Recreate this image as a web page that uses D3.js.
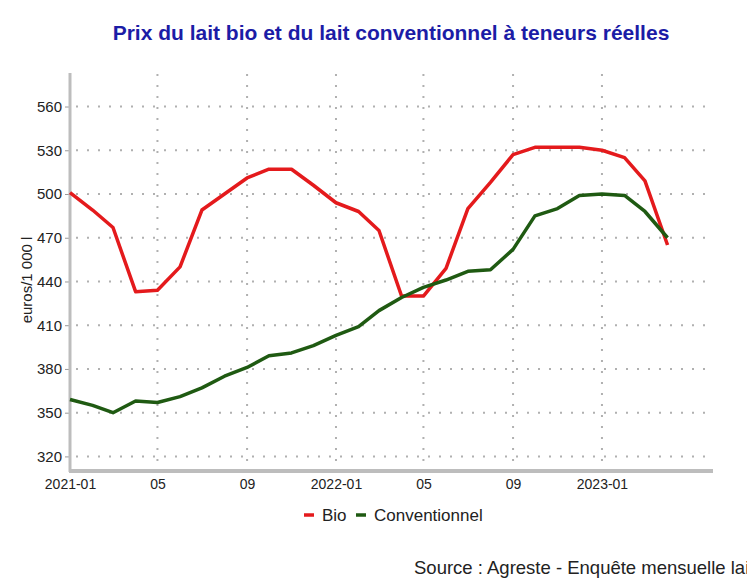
<!DOCTYPE html>
<html><head><meta charset="utf-8">
<script src="https://cdn.jsdelivr.net/npm/d3@7"></script>
<style>
body{margin:0;background:#fff;}
text{font-family:"Liberation Sans",Arial,sans-serif;}
</style></head>
<body><svg id="c" width="747" height="584"></svg>
<script>
const months = ["2021-01","2021-02","2021-03","2021-04","2021-05","2021-06","2021-07","2021-08","2021-09","2021-10","2021-11","2021-12",
"2022-01","2022-02","2022-03","2022-04","2022-05","2022-06","2022-07","2022-08","2022-09","2022-10","2022-11","2022-12",
"2023-01","2023-02","2023-03","2023-04"];
const bio = [501,489,477,433,434,450,489,500,511,517,517,506,494,488,475,430,430,449,490,508,527,532,532,532,530,525,509,465];
const conv = [359,355,350,358,357,361,367,375,381,389,391,396,403,409,420,429,436,441,447,448,462,485,490,499,500,499,488,470];
const tickMonths = ["2021-01","2021-05","2021-09","2022-01","2022-05","2022-09","2023-01"];
const tickLabels = ["2021-01","05","09","2022-01","05","09","2023-01"];
const yTicks = [320,350,380,410,440,470,500,530,560];
const seriesNames = ["Bio","Conventionnel"];
const colors = ["#e41a1c","#1f5a12"];

const svg = d3.select("#c");
const parse = d3.timeParse("%Y-%m");
const x = d3.scaleTime().domain([parse("2021-01"), parse("2023-06")]).range([70, 712]);
const y = d3.scaleLinear().domain([310, 583]).range([471, 73]);

// title
svg.append("text").attr("x", 391).attr("y", 40).attr("text-anchor","middle")
  .attr("font-size", 21).attr("font-weight","bold").attr("fill","#1c1ca6")
  .text("Prix du lait bio et du lait conventionnel à teneurs réelles");

// grid
const grid = svg.append("g");
yTicks.forEach(v => {
  grid.append("line").attr("x1",72).attr("x2",713).attr("y1",y(v)).attr("y2",y(v))
    .attr("stroke","#b0b0b0").attr("stroke-width",2).attr("stroke-dasharray","2,9").attr("stroke-dashoffset",-4);
});
tickMonths.slice(1).forEach(m => {
  grid.append("line").attr("x1",x(parse(m))).attr("x2",x(parse(m))).attr("y1",74).attr("y2",470)
    .attr("stroke","#b0b0b0").attr("stroke-width",2).attr("stroke-dasharray","2,9");
});

// axes
const yAxis = d3.axisLeft(y).tickValues(yTicks).tickSize(5).tickPadding(3);
const gy = svg.append("g").attr("transform","translate(70,0)").call(yAxis);
gy.select(".domain").remove();
gy.selectAll(".tick line").attr("stroke","#999");
gy.selectAll("text").attr("font-size",15).attr("fill","#222").attr("font-family","Liberation Sans, Arial, sans-serif");
svg.append("line").attr("x1",70).attr("x2",70).attr("y1",73).attr("y2",472).attr("stroke","#bdbdbd").attr("stroke-width",3);

const xAxis = d3.axisBottom(x).tickValues(tickMonths.map(parse)).tickFormat((d,i)=>tickLabels[i]).tickSize(0).tickPadding(8);
const gx = svg.append("g").attr("transform","translate(0,471)").call(xAxis);
gx.select(".domain").remove();
gx.selectAll("text").attr("font-size",14).attr("fill","#222").attr("font-family","Liberation Sans, Arial, sans-serif");
svg.append("line").attr("x1",69).attr("x2",713).attr("y1",471).attr("y2",471).attr("stroke","#bdbdbd").attr("stroke-width",4);

// y label
svg.append("text").attr("transform","translate(32,280) rotate(-90)").attr("text-anchor","middle")
  .attr("font-size",15).attr("fill","#222").text("euros/1 000 l");

// lines
const line = d3.line().x((d,i)=>x(parse(months[i]))).y(d=>y(d));
[bio, conv].forEach((s,k) => {
  svg.append("path").datum(s).attr("d", line).attr("fill","none")
    .attr("stroke", colors[k]).attr("stroke-width",3.5).attr("stroke-linejoin","round");
});

// legend
const lg = svg.append("g");
const legX = [304, 356];
seriesNames.forEach((n,k) => {
  lg.append("line").attr("x1",legX[k]).attr("x2",legX[k]+10).attr("y1",515).attr("y2",515)
    .attr("stroke",colors[k]).attr("stroke-width",3.5);
  lg.append("text").attr("x",legX[k]+18).attr("y",521).attr("font-size",17).attr("fill","#222").text(n);
});

// source
svg.append("text").attr("x",414).attr("y",574).attr("font-size",18.5).attr("fill","#222")
  .text("Source : Agreste - Enquête mensuelle laitière");
</script></body></html>
